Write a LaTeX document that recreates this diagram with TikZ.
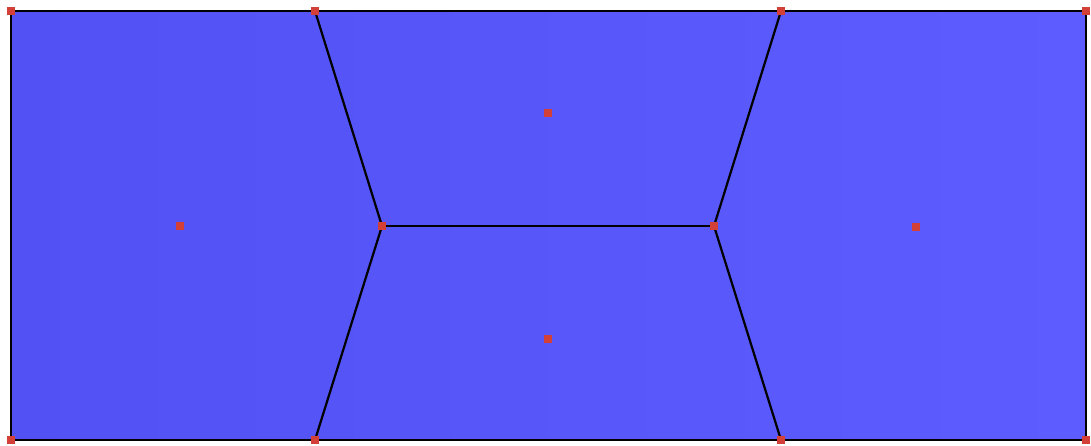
\documentclass[tikz,border=0pt]{standalone}
\definecolor{cellL}{RGB}{82,82,244}
\definecolor{cellR}{RGB}{92,92,255}
\definecolor{pt}{RGB}{210,64,56}
\tikzset{
  site/.style={rectangle,fill=pt,inner sep=0pt,minimum size=8pt},
  edge/.style={draw=black,line width=2.2pt}
}
\begin{document}
\begin{tikzpicture}[x=1pt,y=-1pt]
\useasboundingbox (0,0) rectangle (1091,445);
% corners and boundary points
\coordinate (c1) at (11,11);
\coordinate (c2) at (1086,11);
\coordinate (c3) at (1086,440);
\coordinate (c4) at (11,440);
\coordinate (t1) at (315,11);
\coordinate (t2) at (781,11);
\coordinate (b1) at (315,440);
\coordinate (b2) at (781,440);
\coordinate (v1) at (382,226);
\coordinate (v2) at (714,226);
% fill
\shade[left color=cellL,right color=cellR] (c1) rectangle (c3);
% edges
\draw[edge] (c1) -- (c2) -- (c3) -- (c4) -- cycle;
\draw[edge] (t1) -- (v1) -- (b1);
\draw[edge] (t2) -- (v2) -- (b2);
\draw[edge] (v1) -- (v2);
% points
\foreach \p in {c1,c2,c3,c4,t1,t2,b1,b2,v1,v2}
  \node[site] (n\p) at (\p) {};
\node[site] (s1) at (180,226) {};
\node[site] (s2) at (548,113) {};
\node[site] (s3) at (548,339) {};
\node[site] (s4) at (916,227) {};
\end{tikzpicture}
\end{document}
